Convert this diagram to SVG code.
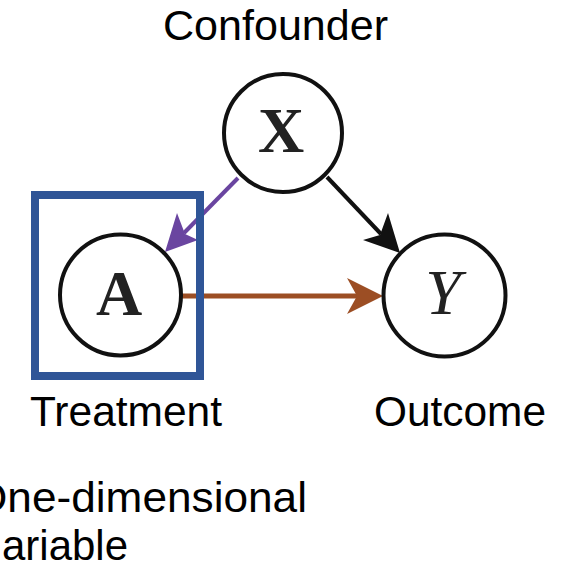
<svg xmlns="http://www.w3.org/2000/svg" width="573" height="572" viewBox="0 0 573 572">
<style>
.lbl{font-family:"Liberation Sans",Arial,sans-serif;font-size:42px;fill:#000}
.node{fill:#fff;stroke:#111;stroke-width:4}
.math{font-family:"Liberation Serif","Times New Roman",serif;font-size:64px;fill:#222;text-anchor:middle}
</style>
<rect width="573" height="572" fill="#fff"/>
<g id="connectors">
<g id="edge-X-A">
<line x1="238" y1="178" x2="184" y2="233" stroke="#6A45A0" stroke-width="4"/>
<polygon points="165,252 177,213 185,234 198,240" fill="#6A45A0"/>
</g>
<g id="edge-X-Y">
<line x1="327" y1="177" x2="381" y2="234" stroke="#111" stroke-width="4"/>
<polygon points="400,253 388,213 380,235 363,240" fill="#111"/>
</g>
<g id="edge-A-Y">
<line x1="182" y1="296" x2="360" y2="296" stroke="#9C4E24" stroke-width="5"/>
<polygon points="383,296 347,278 357,296 347,314" fill="#9C4E24"/>
</g>
</g>
<g id="node-X">
<circle class="node" cx="283" cy="133" r="59"/>
<text class="math" x="281" y="152" font-weight="bold">X</text>
</g>
<g id="node-A">
<circle class="node" cx="120.5" cy="295" r="60.5"/>
<text class="math" x="119" y="315" font-weight="bold">A</text>
</g>
<g id="node-Y">
<circle class="node" cx="444.5" cy="295.5" r="61"/>
<text class="math" x="443" y="314" font-style="italic">Y</text>
</g>
<g id="treatment-box">
<rect x="35" y="195" width="165" height="181" fill="none" stroke="#2F5597" stroke-width="8"/>
</g>
<g id="labels">
<text class="lbl" x="163" y="40" textLength="225" lengthAdjust="spacingAndGlyphs">Confounder</text>
<text class="lbl" x="30" y="426" textLength="192" lengthAdjust="spacingAndGlyphs">Treatment</text>
<text class="lbl" x="374" y="426" textLength="172" lengthAdjust="spacingAndGlyphs">Outcome</text>
<text class="lbl" x="-27" y="512" textLength="334" lengthAdjust="spacingAndGlyphs">One-dimensional</text>
<text class="lbl" x="2" y="560" textLength="126" lengthAdjust="spacingAndGlyphs">ariable</text>
</g>
</svg>
